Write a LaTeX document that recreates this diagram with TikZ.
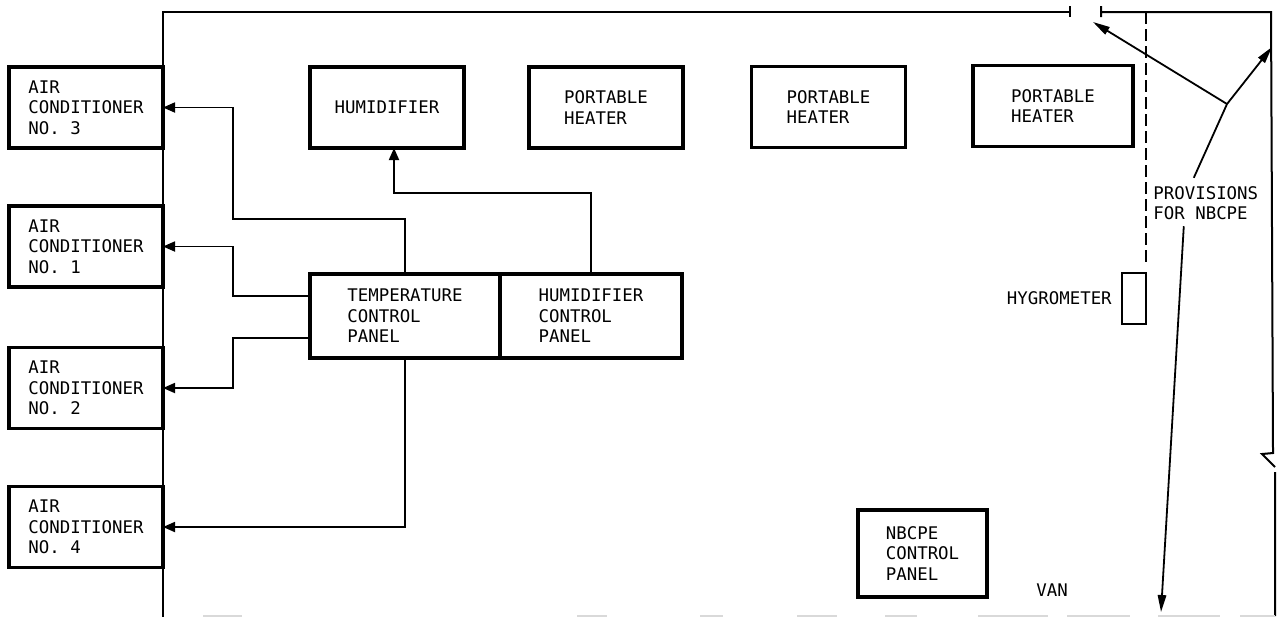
\documentclass[tikz,border=0pt]{standalone}
\usepackage{fontspec}
\setmonofont{DejaVu Sans Mono}
\usetikzlibrary{arrows.meta,positioning}

\begin{document}
\begin{tikzpicture}[x=0.5pt,y=-0.5pt,
  unit/.style={draw,line width=1.8pt,minimum width=77pt,minimum height=40.5pt,
    inner sep=0pt,outer sep=0pt,align=left,font=\ttfamily\fontsize{8.7}{10.25}\selectfont},
  note/.style={inner sep=0pt,align=left,font=\ttfamily\fontsize{8.7}{10.25}\selectfont},
  wire/.style={line width=0.9pt,-{Triangle[length=6pt,width=5pt]}},
  lead/.style={line width=0.9pt,-{Triangle[length=8.5pt,width=4.2pt]}},
  wall/.style={line width=1pt}]

\useasboundingbox (0,0) rectangle (1277,618);

% van walls, with the doorway gap on top
\draw[wall] (1070,6) -- (1070,17) (1070,12) -- (163,12) -- (163,617);
\draw[wall] (1101,6) -- (1101,17) (1101,12) -- (1271,12) -- (1273,453)
  -- (1262,454) -- (1275,467) (1275,472) -- (1275,616);
\foreach \a/\b in {203/242,577/607,700/723,797/837,885/917,978/1048,1067/1130,1158/1220,1240/1275}
  \draw[gray!30,line width=0.6pt] (\a,616) -- (\b,616);

% NBCPE partition
\draw[wall,dash pattern=on 6pt off 2.5pt] (1146,12) -- (1146,263);

% air conditioners on the left wall
\node[unit] (ac3) at (86,107.5) {AIR\\CONDITIONER\\NO. 3};
\node[unit] (ac1) at (86,246.5) {AIR\\CONDITIONER\\NO. 1};
\node[unit] (ac2) at (86,388) {AIR\\CONDITIONER\\NO. 2};
\node[unit] (ac4) at (86,527) {AIR\\CONDITIONER\\NO. 4};

% humidifier and heaters along the top
\node[unit] (hum) at (387,107.5) {HUMIDIFIER};
\node[unit] (ph1) at (606,107.5) {PORTABLE\\HEATER};
\node[unit] (ph2) at (828.5,107) {PORTABLE\\HEATER};
\node[unit,minimum width=80pt] (ph3) at (1053,106) {PORTABLE\\HEATER};

% control panels
\node[unit,minimum width=95pt,minimum height=42pt] (tcp) at (405,316) {TEMPERATURE\\CONTROL\\PANEL};
\node[unit,minimum width=91pt,minimum height=42pt,right=0pt of tcp] (hcp) {HUMIDIFIER\\CONTROL\\PANEL};
\node[unit,minimum width=64.5pt,minimum height=43.5pt] (nbc) at (922.5,553.5) {NBCPE\\CONTROL\\PANEL};

% hygrometer
\node[draw,line width=0.9pt,minimum width=12pt,minimum height=25.5pt,inner sep=0pt] (hyg) at (1134,298.5) {};
\node[note,left=4.5pt of hyg] (hyglabel) {HYGROMETER};

% labels
\node[note,anchor=west] (prov) at (1153,203) {PROVISIONS\\FOR NBCPE};
\node[note] (van) at (1052,590) {VAN};

% control wiring
\draw[wire] (tcp.north) |- ++(-172,-55) |- (ac3.east);
\draw[wire] ([yshift=10pt]tcp.west) -- ++(-77,0) |- (ac1.east);
\draw[wire] ([yshift=-11pt]tcp.west) -- ++(-77,0) |- (ac2.east);
\draw[wire] (tcp.south) |- (ac4.east);
\draw[wire] (hcp.north) -- ++(0,-81) -| ([xshift=3.5pt]hum.south);

% NBCPE leaders
\coordinate (fork) at (1227,104);
\coordinate (doorway) at (1093,22);
\coordinate (sidewall) at (1272,47);
\coordinate (floor) at (1161,612);
\draw[line width=0.9pt] ([xshift=-6pt,yshift=4pt]prov.north) -- (fork);
\draw[lead] (fork) -- (doorway);
\draw[lead] (fork) -- (sidewall);
\draw[lead] ([xshift=-11pt,yshift=-3pt]prov.south) -- (floor);

\end{tikzpicture}
\end{document}
